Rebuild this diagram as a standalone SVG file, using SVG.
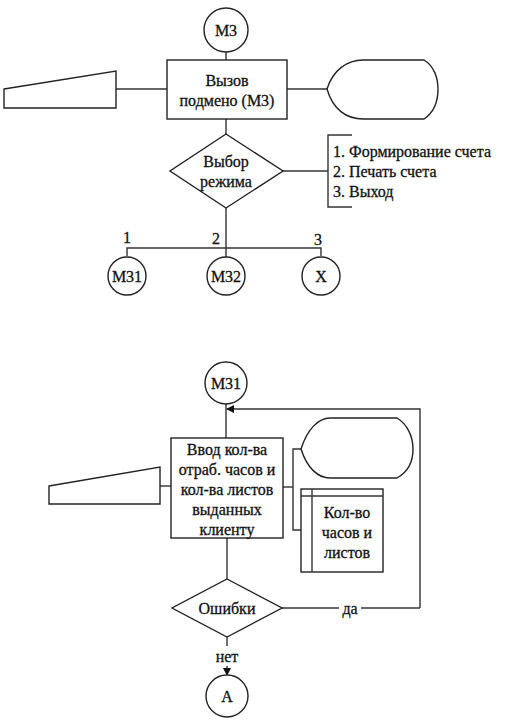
<svg xmlns="http://www.w3.org/2000/svg" width="520" height="725" viewBox="0 0 520 725">
<style>
.s{fill:#fff;stroke:#222;stroke-width:1.4}
.l{fill:none;stroke:#333;stroke-width:1.4}
text{font-family:"Liberation Serif","Times New Roman",serif;fill:#111;stroke:#111;stroke-width:0.3}
.t{font-size:16px;text-anchor:middle}
.m{font-size:16px}
</style>
<defs>
<marker id="ah" markerWidth="8" markerHeight="8" refX="7" refY="4" orient="auto" markerUnits="userSpaceOnUse">
<path d="M0,0 L8,4 L0,8 Z" fill="#111"/>
</marker>
</defs>
<rect width="520" height="725" fill="#fff"/>
<g id="connectors">
<line class="l" x1="226" y1="52" x2="226" y2="60"/>
<line class="l" x1="116" y1="89" x2="167" y2="89"/>
<line class="l" x1="287" y1="89" x2="327" y2="89"/>
<line class="l" x1="226" y1="119" x2="226" y2="134"/>
<line class="l" x1="283" y1="171" x2="328" y2="171"/>
<line class="l" x1="226" y1="208" x2="226" y2="257"/>
<polyline class="l" points="127,256 127,248 321,248 321,256"/>
<polyline class="l" points="420,608 420,409 227,409" marker-end="url(#ah)"/>
<line class="l" x1="226" y1="404" x2="226" y2="438"/>
<line class="l" x1="160" y1="486" x2="171" y2="486"/>
<line class="l" x1="283" y1="487" x2="293" y2="487"/>
<polyline class="l" points="301,449 293,449 293,530 301,530"/>
<line class="l" x1="227" y1="538" x2="227" y2="579"/>
<line class="l" x1="282" y1="608" x2="339" y2="608"/>
<line class="l" x1="361" y1="608" x2="420" y2="608"/>
<line class="l" x1="227" y1="637" x2="227" y2="646"/>
<line class="l" x1="227" y1="666" x2="227" y2="675" marker-end="url(#ah)"/>
<text class="t" x="350" y="614">да</text>
<text class="t" x="227" y="662">нет</text>
<text class="t" x="127" y="243">1</text>
<text class="t" x="216" y="244">2</text>
<text class="t" x="318" y="245">3</text>
</g>
<g id="m3"><circle class="s" cx="226" cy="30" r="22"/><text class="t" x="226" y="36">М3</text></g>
<g id="call"><rect class="s" x="167" y="60" width="120" height="59"/><text class="t" x="227" y="86">Вызов</text><text class="t" x="227" y="106">подмено (М3)</text></g>
<g id="kbd1"><polygon class="s" points="4,89 116,71 116,108 4,108"/></g>
<g id="disp1"><path class="s" d="M327,89 C333,70 347,60 363,60 L424,60 C434,66 438,78 438,89 C438,102 433,113 424,119 L363,119 C347,119 333,110 327,89 Z"/></g>
<g id="choice"><polygon class="s" points="226,134 283,171 226,208 170,171"/><text class="t" x="226" y="167">Выбор</text><text class="t" x="226" y="187">режима</text></g>
<g id="menu"><polyline class="l" points="352,135 328,135 328,207 352,207"/>
<text class="m" x="333" y="157">1. Формирование счета</text>
<text class="m" x="333" y="177">2. Печать счета</text>
<text class="m" x="333" y="197">3. Выход</text></g>
<g id="m31a"><circle class="s" cx="127" cy="276" r="19"/><text class="t" x="127" y="282">М31</text></g>
<g id="m32a"><circle class="s" cx="226" cy="276" r="19"/><text class="t" x="226" y="282">М32</text></g>
<g id="x"><circle class="s" cx="321" cy="276" r="19"/><text class="t" x="321" y="282">Х</text></g>
<g id="m31"><circle class="s" cx="226" cy="383" r="21"/><text class="t" x="226" y="389">М31</text></g>
<g id="input"><rect class="s" x="171" y="438" width="112" height="100"/>
<text class="t" x="227" y="455">Ввод кол-ва</text>
<text class="t" x="227" y="475">отраб. часов и</text>
<text class="t" x="227" y="495">кол-ва листов</text>
<text class="t" x="227" y="515">выданных</text>
<text class="t" x="227" y="535">клиенту</text></g>
<g id="kbd2"><polygon class="s" points="49,486 160,467 160,504 49,504"/></g>
<g id="disp2"><path class="s" d="M301,449 C307,430 318,418 330,418 L397,418 C407,424 413,436 413,449 C413,461 408,472 397,478 L330,478 C318,478 307,468 301,449 Z"/></g>
<g id="store"><rect class="s" x="301" y="489" width="82" height="83"/><line class="l" x1="301" y1="496" x2="383" y2="496"/><line class="l" x1="312" y1="489" x2="312" y2="572"/>
<text class="t" x="347" y="518">Кол-во</text>
<text class="t" x="347" y="538">часов и</text>
<text class="t" x="347" y="558">листов</text></g>
<g id="err"><polygon class="s" points="227,579 282,608 227,637 172,608"/><text class="t" x="227" y="614">Ошибки</text></g>
<g id="a"><circle class="s" cx="227" cy="696" r="21"/><text class="t" x="227" y="702">А</text></g>
</svg>
